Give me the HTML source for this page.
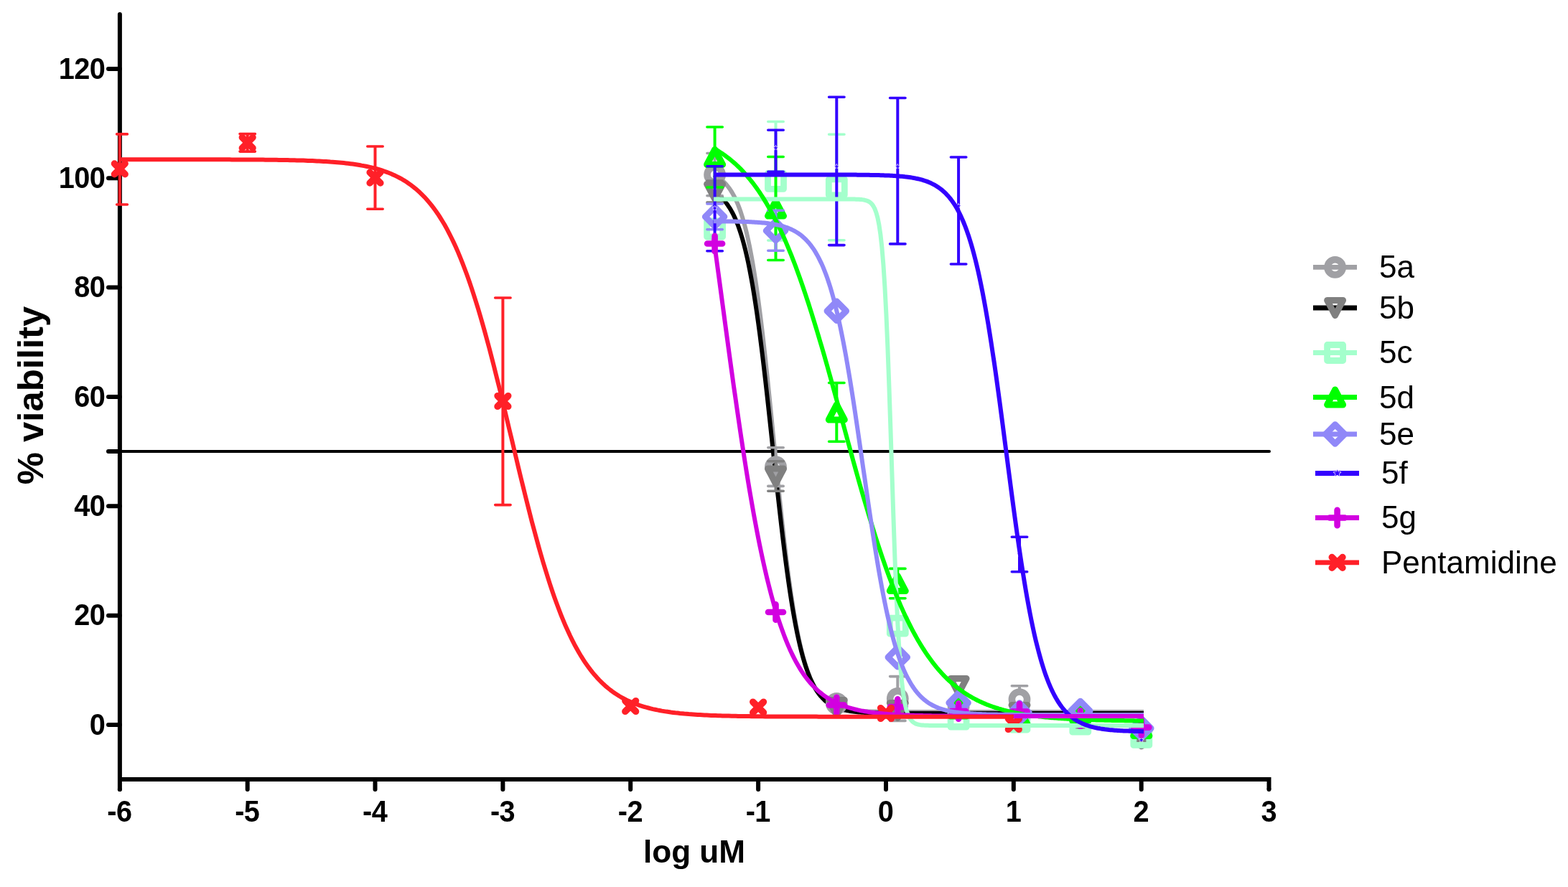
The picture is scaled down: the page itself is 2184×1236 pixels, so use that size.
<!DOCTYPE html>
<html><head><meta charset="utf-8"><title>Dose response</title>
<style>html,body{margin:0;padding:0;background:#fff;}svg{display:block;}</style>
</head><body>
<svg width="2184" height="1236" viewBox="0 0 2184 1236">
<rect width="2184" height="1236" fill="#fff"/>
<path d="M166.9,20V1100" stroke="#000" stroke-width="6" stroke-linecap="round"/>
<path d="M166.9,1086H1767.5V1100" fill="none" stroke="#000" stroke-width="6" stroke-linejoin="miter"/>
<path d="M344.7,1086V1100" stroke="#000" stroke-width="6" stroke-linecap="round"/>
<path d="M522.5,1086V1100" stroke="#000" stroke-width="6" stroke-linecap="round"/>
<path d="M700.4,1086V1100" stroke="#000" stroke-width="6" stroke-linecap="round"/>
<path d="M878.2,1086V1100" stroke="#000" stroke-width="6" stroke-linecap="round"/>
<path d="M1056.1,1086V1100" stroke="#000" stroke-width="6" stroke-linecap="round"/>
<path d="M1234.0,1086V1100" stroke="#000" stroke-width="6" stroke-linecap="round"/>
<path d="M1411.8,1086V1100" stroke="#000" stroke-width="6" stroke-linecap="round"/>
<path d="M1589.7,1086V1100" stroke="#000" stroke-width="6" stroke-linecap="round"/>
<path d="M1767.5,1100V1100" stroke="#000" stroke-width="6" stroke-linecap="round"/>
<path d="M166.8,1100V1100" stroke="#000" stroke-width="6" stroke-linecap="round"/>
<path d="M151,1010.0H166.9" stroke="#000" stroke-width="6" stroke-linecap="round"/>
<path d="M151,857.7H166.9" stroke="#000" stroke-width="6" stroke-linecap="round"/>
<path d="M151,705.3H166.9" stroke="#000" stroke-width="6" stroke-linecap="round"/>
<path d="M151,553.0H166.9" stroke="#000" stroke-width="6" stroke-linecap="round"/>
<path d="M151,400.6H166.9" stroke="#000" stroke-width="6" stroke-linecap="round"/>
<path d="M151,248.3H166.9" stroke="#000" stroke-width="6" stroke-linecap="round"/>
<path d="M151,96.0H166.9" stroke="#000" stroke-width="6" stroke-linecap="round"/>
<path d="M151,629.1H166.9" stroke="#000" stroke-width="6" stroke-linecap="round"/>
<path d="M166.9,629.1H1768" stroke="#000" stroke-width="4" stroke-linecap="round"/>
<text transform="scale(0.92,1)" x="158.91" y="1023.6" text-anchor="end" font-family="Liberation Sans, Arial, sans-serif" font-weight="bold" font-size="43.2" letter-spacing="-0.7">0</text>
<text transform="scale(0.92,1)" x="158.91" y="871.3" text-anchor="end" font-family="Liberation Sans, Arial, sans-serif" font-weight="bold" font-size="43.2" letter-spacing="-0.7">20</text>
<text transform="scale(0.92,1)" x="158.91" y="718.9" text-anchor="end" font-family="Liberation Sans, Arial, sans-serif" font-weight="bold" font-size="43.2" letter-spacing="-0.7">40</text>
<text transform="scale(0.92,1)" x="158.91" y="566.6" text-anchor="end" font-family="Liberation Sans, Arial, sans-serif" font-weight="bold" font-size="43.2" letter-spacing="-0.7">60</text>
<text transform="scale(0.92,1)" x="158.91" y="414.2" text-anchor="end" font-family="Liberation Sans, Arial, sans-serif" font-weight="bold" font-size="43.2" letter-spacing="-0.7">80</text>
<text transform="scale(0.92,1)" x="158.91" y="261.9" text-anchor="end" font-family="Liberation Sans, Arial, sans-serif" font-weight="bold" font-size="43.2" letter-spacing="-0.7">100</text>
<text transform="scale(0.92,1)" x="158.91" y="109.6" text-anchor="end" font-family="Liberation Sans, Arial, sans-serif" font-weight="bold" font-size="43.2" letter-spacing="-0.7">120</text>
<text transform="scale(0.92,1)" x="180.87" y="1144.8" text-anchor="middle" font-family="Liberation Sans, Arial, sans-serif" font-weight="bold" font-size="43.2" letter-spacing="-0.7">-6</text>
<text transform="scale(0.92,1)" x="374.20" y="1144.8" text-anchor="middle" font-family="Liberation Sans, Arial, sans-serif" font-weight="bold" font-size="43.2" letter-spacing="-0.7">-5</text>
<text transform="scale(0.92,1)" x="567.52" y="1144.8" text-anchor="middle" font-family="Liberation Sans, Arial, sans-serif" font-weight="bold" font-size="43.2" letter-spacing="-0.7">-4</text>
<text transform="scale(0.92,1)" x="760.85" y="1144.8" text-anchor="middle" font-family="Liberation Sans, Arial, sans-serif" font-weight="bold" font-size="43.2" letter-spacing="-0.7">-3</text>
<text transform="scale(0.92,1)" x="954.17" y="1144.8" text-anchor="middle" font-family="Liberation Sans, Arial, sans-serif" font-weight="bold" font-size="43.2" letter-spacing="-0.7">-2</text>
<text transform="scale(0.92,1)" x="1147.50" y="1144.8" text-anchor="middle" font-family="Liberation Sans, Arial, sans-serif" font-weight="bold" font-size="43.2" letter-spacing="-0.7">-1</text>
<text transform="scale(0.92,1)" x="1340.83" y="1144.8" text-anchor="middle" font-family="Liberation Sans, Arial, sans-serif" font-weight="bold" font-size="43.2" letter-spacing="-0.7">0</text>
<text transform="scale(0.92,1)" x="1534.15" y="1144.8" text-anchor="middle" font-family="Liberation Sans, Arial, sans-serif" font-weight="bold" font-size="43.2" letter-spacing="-0.7">1</text>
<text transform="scale(0.92,1)" x="1727.48" y="1144.8" text-anchor="middle" font-family="Liberation Sans, Arial, sans-serif" font-weight="bold" font-size="43.2" letter-spacing="-0.7">2</text>
<text transform="scale(0.92,1)" x="1920.80" y="1144.8" text-anchor="middle" font-family="Liberation Sans, Arial, sans-serif" font-weight="bold" font-size="43.2" letter-spacing="-0.7">3</text>
<text x="967" y="1202" text-anchor="middle" font-family="Liberation Sans, Arial, sans-serif" font-weight="bold" font-size="44.1">log uM</text>
<text transform="translate(60.3,551) rotate(-90)" text-anchor="middle" font-family="Liberation Sans, Arial, sans-serif" font-weight="bold" font-size="50.8">% viability</text>
<polyline points="994.0,243.9 996.0,244.9 998.0,246.0 1000.0,247.1 1002.0,248.5 1004.0,249.9 1006.0,251.5 1008.0,253.3 1010.0,255.3 1012.0,257.5 1014.0,260.0 1016.0,262.6 1018.0,265.6 1020.0,268.9 1022.0,272.5 1024.1,276.4 1026.1,280.8 1028.1,285.6 1030.1,290.8 1032.1,296.6 1034.1,302.9 1036.1,309.7 1038.1,317.2 1040.1,325.3 1042.1,334.1 1044.1,343.7 1046.1,354.0 1048.1,365.0 1050.1,376.9 1052.1,389.6 1054.1,403.1 1056.1,417.4 1058.1,432.6 1060.1,448.5 1062.1,465.2 1064.1,482.6 1066.1,500.7 1068.1,519.4 1070.1,538.5 1072.1,558.1 1074.1,577.9 1076.1,598.0 1078.1,618.2 1080.1,638.3 1082.1,658.3 1084.2,678.0 1086.2,697.4 1088.2,716.3 1090.2,734.7 1092.2,752.5 1094.2,769.6 1096.2,786.0 1098.2,801.6 1100.2,816.4 1102.2,830.3 1104.2,843.5 1106.2,855.8 1108.2,867.3 1110.2,878.0 1112.2,887.9 1114.2,897.1 1116.2,905.6 1118.2,913.5 1120.2,920.7 1122.2,927.3 1124.2,933.3 1126.2,938.8 1128.2,943.9 1130.2,948.4 1132.2,952.6 1134.2,956.4 1136.2,959.9 1138.2,963.0 1140.2,965.8 1142.2,968.4 1144.3,970.7 1146.3,972.8 1148.3,974.7 1150.3,976.4 1152.3,978.0 1154.3,979.4 1156.3,980.6 1158.3,981.8 1160.3,982.8 1162.3,983.7 1164.3,984.5 1166.3,985.3 1168.3,986.0 1170.3,986.6 1172.3,987.1 1174.3,987.6 1176.3,988.1 1178.3,988.5 1180.3,988.8 1182.3,989.1 1184.3,989.4 1186.3,989.7 1188.3,989.9 1190.3,990.1 1192.3,990.3 1194.3,990.5 1196.3,990.7 1198.3,990.8 1200.3,990.9 1202.3,991.0 1204.4,991.1 1206.4,991.2 1208.4,991.3 1210.4,991.4 1212.4,991.4 1214.4,991.5 1216.4,991.6 1218.4,991.6 1220.4,991.6 1222.4,991.7 1224.4,991.7 1226.4,991.7 1228.4,991.8 1230.4,991.8 1232.4,991.8 1234.4,991.8 1236.4,991.9 1238.4,991.9 1240.4,991.9 1242.4,991.9 1244.4,991.9 1246.4,991.9 1248.4,991.9 1250.4,991.9 1252.4,992.0 1254.4,992.0 1256.4,992.0 1258.4,992.0 1260.4,992.0 1262.4,992.0 1264.5,992.0 1266.5,992.0 1268.5,992.0 1270.5,992.0 1272.5,992.0 1274.5,992.0 1276.5,992.0 1278.5,992.0 1280.5,992.0 1282.5,992.0 1284.5,992.0 1286.5,992.0 1288.5,992.0 1290.5,992.0 1292.5,992.0 1294.5,992.0 1296.5,992.0 1298.5,992.0 1300.5,992.0 1302.5,992.0 1304.5,992.0 1306.5,992.0 1308.5,992.0 1310.5,992.0 1312.5,992.0 1314.5,992.0 1316.5,992.0 1318.5,992.0 1320.5,992.0 1322.5,992.0 1324.6,992.0 1326.6,992.0 1328.6,992.0 1330.6,992.0 1332.6,992.0 1334.6,992.0 1336.6,992.0 1338.6,992.0 1340.6,992.0 1342.6,992.0 1344.6,992.0 1346.6,992.0 1348.6,992.0 1350.6,992.0 1352.6,992.0 1354.6,992.0 1356.6,992.0 1358.6,992.0 1360.6,992.0 1362.6,992.0 1364.6,992.0 1366.6,992.0 1368.6,992.0 1370.6,992.0 1372.6,992.0 1374.6,992.0 1376.6,992.0 1378.6,992.0 1380.6,992.0 1382.6,992.0 1384.7,992.0 1386.7,992.0 1388.7,992.0 1390.7,992.0 1392.7,992.0 1394.7,992.0 1396.7,992.0 1398.7,992.0 1400.7,992.0 1402.7,992.0 1404.7,992.0 1406.7,992.0 1408.7,992.0 1410.7,992.0 1412.7,992.0 1414.7,992.0 1416.7,992.0 1418.7,992.0 1420.7,992.0 1422.7,992.0 1424.7,992.0 1426.7,992.0 1428.7,992.0 1430.7,992.0 1432.7,992.0 1434.7,992.0 1436.7,992.0 1438.7,992.0 1440.7,992.0 1442.7,992.0 1444.8,992.0 1446.8,992.0 1448.8,992.0 1450.8,992.0 1452.8,992.0 1454.8,992.0 1456.8,992.0 1458.8,992.0 1460.8,992.0 1462.8,992.0 1464.8,992.0 1466.8,992.0 1468.8,992.0 1470.8,992.0 1472.8,992.0 1474.8,992.0 1476.8,992.0 1478.8,992.0 1480.8,992.0 1482.8,992.0 1484.8,992.0 1486.8,992.0 1488.8,992.0 1490.8,992.0 1492.8,992.0 1494.8,992.0 1496.8,992.0 1498.8,992.0 1500.8,992.0 1502.8,992.0 1504.9,992.0 1506.9,992.0 1508.9,992.0 1510.9,992.0 1512.9,992.0 1514.9,992.0 1516.9,992.0 1518.9,992.0 1520.9,992.0 1522.9,992.0 1524.9,992.0 1526.9,992.0 1528.9,992.0 1530.9,992.0 1532.9,992.0 1534.9,992.0 1536.9,992.0 1538.9,992.0 1540.9,992.0 1542.9,992.0 1544.9,992.0 1546.9,992.0 1548.9,992.0 1550.9,992.0 1552.9,992.0 1554.9,992.0 1556.9,992.0 1558.9,992.0 1560.9,992.0 1562.9,992.0 1565.0,992.0 1567.0,992.0 1569.0,992.0 1571.0,992.0 1573.0,992.0 1575.0,992.0 1577.0,992.0 1579.0,992.0 1581.0,992.0 1583.0,992.0 1585.0,992.0 1587.0,992.0 1589.0,992.0 1591.0,992.0 1593.0,992.0" fill="none" stroke="#A0A0A4" stroke-width="6" stroke-linejoin="round"/>
<polyline points="994.0,267.7 996.0,268.9 998.0,270.2 1000.0,271.6 1002.0,273.1 1004.0,274.8 1006.0,276.7 1008.0,278.7 1010.0,281.0 1012.0,283.5 1014.0,286.3 1016.0,289.3 1018.0,292.6 1020.0,296.2 1022.0,300.2 1024.1,304.6 1026.1,309.3 1028.1,314.5 1030.1,320.2 1032.1,326.3 1034.1,333.0 1036.1,340.3 1038.1,348.1 1040.1,356.6 1042.1,365.7 1044.1,375.6 1046.1,386.1 1048.1,397.3 1050.1,409.3 1052.1,422.0 1054.1,435.4 1056.1,449.6 1058.1,464.4 1060.1,480.0 1062.1,496.1 1064.1,512.9 1066.1,530.2 1068.1,548.0 1070.1,566.1 1072.1,584.6 1074.1,603.2 1076.1,622.0 1078.1,640.8 1080.1,659.5 1082.1,678.0 1084.2,696.3 1086.2,714.2 1088.2,731.7 1090.2,748.6 1092.2,765.0 1094.2,780.8 1096.2,795.9 1098.2,810.4 1100.2,824.1 1102.2,837.0 1104.2,849.3 1106.2,860.8 1108.2,871.5 1110.2,881.6 1112.2,891.0 1114.2,899.7 1116.2,907.8 1118.2,915.2 1120.2,922.1 1122.2,928.5 1124.2,934.3 1126.2,939.7 1128.2,944.6 1130.2,949.1 1132.2,953.2 1134.2,957.0 1136.2,960.4 1138.2,963.5 1140.2,966.4 1142.2,969.0 1144.3,971.3 1146.3,973.4 1148.3,975.4 1150.3,977.2 1152.3,978.8 1154.3,980.2 1156.3,981.5 1158.3,982.7 1160.3,983.8 1162.3,984.8 1164.3,985.7 1166.3,986.5 1168.3,987.2 1170.3,987.8 1172.3,988.4 1174.3,989.0 1176.3,989.5 1178.3,989.9 1180.3,990.3 1182.3,990.6 1184.3,991.0 1186.3,991.3 1188.3,991.5 1190.3,991.8 1192.3,992.0 1194.3,992.2 1196.3,992.4 1198.3,992.5 1200.3,992.7 1202.3,992.8 1204.4,992.9 1206.4,993.0 1208.4,993.1 1210.4,993.2 1212.4,993.3 1214.4,993.3 1216.4,993.4 1218.4,993.5 1220.4,993.5 1222.4,993.6 1224.4,993.6 1226.4,993.6 1228.4,993.7 1230.4,993.7 1232.4,993.7 1234.4,993.8 1236.4,993.8 1238.4,993.8 1240.4,993.8 1242.4,993.8 1244.4,993.9 1246.4,993.9 1248.4,993.9 1250.4,993.9 1252.4,993.9 1254.4,993.9 1256.4,993.9 1258.4,993.9 1260.4,993.9 1262.4,993.9 1264.5,994.0 1266.5,994.0 1268.5,994.0 1270.5,994.0 1272.5,994.0 1274.5,994.0 1276.5,994.0 1278.5,994.0 1280.5,994.0 1282.5,994.0 1284.5,994.0 1286.5,994.0 1288.5,994.0 1290.5,994.0 1292.5,994.0 1294.5,994.0 1296.5,994.0 1298.5,994.0 1300.5,994.0 1302.5,994.0 1304.5,994.0 1306.5,994.0 1308.5,994.0 1310.5,994.0 1312.5,994.0 1314.5,994.0 1316.5,994.0 1318.5,994.0 1320.5,994.0 1322.5,994.0 1324.6,994.0 1326.6,994.0 1328.6,994.0 1330.6,994.0 1332.6,994.0 1334.6,994.0 1336.6,994.0 1338.6,994.0 1340.6,994.0 1342.6,994.0 1344.6,994.0 1346.6,994.0 1348.6,994.0 1350.6,994.0 1352.6,994.0 1354.6,994.0 1356.6,994.0 1358.6,994.0 1360.6,994.0 1362.6,994.0 1364.6,994.0 1366.6,994.0 1368.6,994.0 1370.6,994.0 1372.6,994.0 1374.6,994.0 1376.6,994.0 1378.6,994.0 1380.6,994.0 1382.6,994.0 1384.7,994.0 1386.7,994.0 1388.7,994.0 1390.7,994.0 1392.7,994.0 1394.7,994.0 1396.7,994.0 1398.7,994.0 1400.7,994.0 1402.7,994.0 1404.7,994.0 1406.7,994.0 1408.7,994.0 1410.7,994.0 1412.7,994.0 1414.7,994.0 1416.7,994.0 1418.7,994.0 1420.7,994.0 1422.7,994.0 1424.7,994.0 1426.7,994.0 1428.7,994.0 1430.7,994.0 1432.7,994.0 1434.7,994.0 1436.7,994.0 1438.7,994.0 1440.7,994.0 1442.7,994.0 1444.8,994.0 1446.8,994.0 1448.8,994.0 1450.8,994.0 1452.8,994.0 1454.8,994.0 1456.8,994.0 1458.8,994.0 1460.8,994.0 1462.8,994.0 1464.8,994.0 1466.8,994.0 1468.8,994.0 1470.8,994.0 1472.8,994.0 1474.8,994.0 1476.8,994.0 1478.8,994.0 1480.8,994.0 1482.8,994.0 1484.8,994.0 1486.8,994.0 1488.8,994.0 1490.8,994.0 1492.8,994.0 1494.8,994.0 1496.8,994.0 1498.8,994.0 1500.8,994.0 1502.8,994.0 1504.9,994.0 1506.9,994.0 1508.9,994.0 1510.9,994.0 1512.9,994.0 1514.9,994.0 1516.9,994.0 1518.9,994.0 1520.9,994.0 1522.9,994.0 1524.9,994.0 1526.9,994.0 1528.9,994.0 1530.9,994.0 1532.9,994.0 1534.9,994.0 1536.9,994.0 1538.9,994.0 1540.9,994.0 1542.9,994.0 1544.9,994.0 1546.9,994.0 1548.9,994.0 1550.9,994.0 1552.9,994.0 1554.9,994.0 1556.9,994.0 1558.9,994.0 1560.9,994.0 1562.9,994.0 1565.0,994.0 1567.0,994.0 1569.0,994.0 1571.0,994.0 1573.0,994.0 1575.0,994.0 1577.0,994.0 1579.0,994.0 1581.0,994.0 1583.0,994.0 1585.0,994.0 1587.0,994.0 1589.0,994.0 1591.0,994.0 1593.0,994.0" fill="none" stroke="#000000" stroke-width="6" stroke-linejoin="round"/>
<path d="M995.6,213.5V229.4M995.6,257.4V272.8" stroke="#A0A0A4" stroke-width="4"/><path d="M984.9,213.5H1006.3M984.9,272.8H1006.3" stroke="#A0A0A4" stroke-width="3.6" stroke-linecap="round"/>
<path d="M1080.5,623.8V636.6M1080.5,664.6V677.4" stroke="#A0A0A4" stroke-width="4"/><path d="M1069.8,623.8H1091.2M1069.8,677.4H1091.2" stroke="#A0A0A4" stroke-width="3.6" stroke-linecap="round"/>
<path d="M1250.3,942.6V959.5M1250.3,987.5V1004.4" stroke="#A0A0A4" stroke-width="4"/><path d="M1239.6,942.6H1261.0M1239.6,1004.4H1261.0" stroke="#A0A0A4" stroke-width="3.6" stroke-linecap="round"/>
<path d="M1420.0,955.8V960.6M1420.0,988.6V993.4" stroke="#A0A0A4" stroke-width="4"/><path d="M1409.3,955.8H1430.7M1409.3,993.4H1430.7" stroke="#A0A0A4" stroke-width="3.6" stroke-linecap="round"/>
<circle cx="995.6" cy="243.4" r="10.6" fill="none" stroke="#A0A0A4" stroke-width="9.6"/>
<circle cx="1080.5" cy="650.6" r="10.6" fill="none" stroke="#A0A0A4" stroke-width="9.6"/>
<circle cx="1165.3" cy="980.3" r="10.6" fill="none" stroke="#A0A0A4" stroke-width="9.6"/>
<circle cx="1250.3" cy="973.5" r="10.6" fill="none" stroke="#A0A0A4" stroke-width="9.6"/>
<circle cx="1335.1" cy="985.0" r="10.6" fill="none" stroke="#A0A0A4" stroke-width="9.6"/>
<circle cx="1420.0" cy="974.6" r="10.6" fill="none" stroke="#A0A0A4" stroke-width="9.6"/>
<circle cx="1504.8" cy="1003.0" r="10.6" fill="none" stroke="#A0A0A4" stroke-width="9.6"/>
<circle cx="1589.8" cy="1025.0" r="10.6" fill="none" stroke="#A0A0A4" stroke-width="9.6"/>
<path d="M995.6,252.0V253.0M995.6,281.0V282.0" stroke="#808080" stroke-width="4"/><path d="M984.9,252.0H1006.3M984.9,282.0H1006.3" stroke="#808080" stroke-width="3.6" stroke-linecap="round"/>
<path d="M1080.5,642.8V649.6M1080.5,677.6V684.3" stroke="#808080" stroke-width="4"/><path d="M1069.8,642.8H1091.2M1069.8,684.3H1091.2" stroke="#808080" stroke-width="3.6" stroke-linecap="round"/>
<path d="M984.6,256.5L1006.6,256.5L995.6,277.5Z" fill="none" stroke="#808080" stroke-width="9" stroke-linejoin="round"/>
<path d="M1069.5,653.1L1091.5,653.1L1080.5,674.1Z" fill="none" stroke="#808080" stroke-width="9" stroke-linejoin="round"/>
<path d="M1154.3,975.4L1176.3,975.4L1165.3,996.4Z" fill="none" stroke="#808080" stroke-width="9" stroke-linejoin="round"/>
<path d="M1239.3,979.5L1261.3,979.5L1250.3,1000.5Z" fill="none" stroke="#808080" stroke-width="9" stroke-linejoin="round"/>
<path d="M1324.1,945.5L1346.1,945.5L1335.1,966.5Z" fill="none" stroke="#808080" stroke-width="9" stroke-linejoin="round"/>
<path d="M1409.0,982.5L1431.0,982.5L1420.0,1003.5Z" fill="none" stroke="#808080" stroke-width="9" stroke-linejoin="round"/>
<path d="M1493.8,992.5L1515.8,992.5L1504.8,1013.5Z" fill="none" stroke="#808080" stroke-width="9" stroke-linejoin="round"/>
<path d="M1578.8,1018.8L1600.8,1018.8L1589.8,1039.8Z" fill="none" stroke="#808080" stroke-width="9" stroke-linejoin="round"/>
<path d="M1080.5,169.5V238.3M1080.5,266.3V335.0" stroke="#A4FFCC" stroke-width="4"/><path d="M1069.8,169.5H1091.2M1069.8,335.0H1091.2" stroke="#A4FFCC" stroke-width="3.6" stroke-linecap="round"/>
<path d="M1165.3,187.2V246.8M1165.3,274.8V334.8" stroke="#A4FFCC" stroke-width="4"/><path d="M1154.6,187.2H1176.0M1154.6,334.8H1176.0" stroke="#A4FFCC" stroke-width="3.6" stroke-linecap="round"/>
<rect x="984.6" y="308.0" width="22" height="22" fill="none" stroke="#A4FFCC" stroke-width="8.8" stroke-linejoin="round"/>
<rect x="1069.5" y="241.3" width="22" height="22" fill="none" stroke="#A4FFCC" stroke-width="8.8" stroke-linejoin="round"/>
<rect x="1154.3" y="249.8" width="22" height="22" fill="none" stroke="#A4FFCC" stroke-width="8.8" stroke-linejoin="round"/>
<rect x="1239.3" y="861.2" width="22" height="22" fill="none" stroke="#A4FFCC" stroke-width="8.8" stroke-linejoin="round"/>
<rect x="1324.1" y="991.2" width="22" height="22" fill="none" stroke="#A4FFCC" stroke-width="8.8" stroke-linejoin="round"/>
<rect x="1409.0" y="995.0" width="22" height="22" fill="none" stroke="#A4FFCC" stroke-width="8.8" stroke-linejoin="round"/>
<rect x="1493.8" y="998.2" width="22" height="22" fill="none" stroke="#A4FFCC" stroke-width="8.8" stroke-linejoin="round"/>
<rect x="1578.8" y="1016.4" width="22" height="22" fill="none" stroke="#A4FFCC" stroke-width="8.8" stroke-linejoin="round"/>
<path d="M995.6,177.0V204.9M995.6,232.9V261.0" stroke="#00FF00" stroke-width="4"/><path d="M984.9,177.0H1006.3M984.9,261.0H1006.3" stroke="#00FF00" stroke-width="3.6" stroke-linecap="round"/>
<path d="M1080.5,218.5V276.5M1080.5,304.5V362.5" stroke="#00FF00" stroke-width="4"/><path d="M1069.8,218.5H1091.2M1069.8,362.5H1091.2" stroke="#00FF00" stroke-width="3.6" stroke-linecap="round"/>
<path d="M1165.3,533.5V560.4M1165.3,588.4V615.3" stroke="#00FF00" stroke-width="4"/><path d="M1154.6,533.5H1176.0M1154.6,615.3H1176.0" stroke="#00FF00" stroke-width="3.6" stroke-linecap="round"/>
<path d="M1250.3,792.4V799.0M1250.3,827.0V833.7" stroke="#00FF00" stroke-width="4"/><path d="M1239.6,792.4H1261.0M1239.6,833.7H1261.0" stroke="#00FF00" stroke-width="3.6" stroke-linecap="round"/>
<path d="M984.6,229.4L1006.6,229.4L995.6,208.4Z" fill="none" stroke="#00FF00" stroke-width="9" stroke-linejoin="round"/>
<path d="M1069.5,301.0L1091.5,301.0L1080.5,280.0Z" fill="none" stroke="#00FF00" stroke-width="9" stroke-linejoin="round"/>
<path d="M1154.3,584.9L1176.3,584.9L1165.3,563.9Z" fill="none" stroke="#00FF00" stroke-width="9" stroke-linejoin="round"/>
<path d="M1239.3,823.5L1261.3,823.5L1250.3,802.5Z" fill="none" stroke="#00FF00" stroke-width="9" stroke-linejoin="round"/>
<path d="M1324.1,998.0L1346.1,998.0L1335.1,977.0Z" fill="none" stroke="#00FF00" stroke-width="9" stroke-linejoin="round"/>
<path d="M1409.0,1009.2L1431.0,1009.2L1420.0,988.2Z" fill="none" stroke="#00FF00" stroke-width="9" stroke-linejoin="round"/>
<path d="M1493.8,1004.5L1515.8,1004.5L1504.8,983.5Z" fill="none" stroke="#00FF00" stroke-width="9" stroke-linejoin="round"/>
<path d="M1578.8,1025.5L1600.8,1025.5L1589.8,1004.5Z" fill="none" stroke="#00FF00" stroke-width="9" stroke-linejoin="round"/>
<path d="M995.6,284.0V286.0M995.6,318.0V319.7" stroke="#9088F8" stroke-width="4"/><path d="M984.9,284.0H1006.3M984.9,319.7H1006.3" stroke="#9088F8" stroke-width="3.6" stroke-linecap="round"/>
<path d="M1080.5,293.3V305.5M1080.5,337.5V349.2" stroke="#9088F8" stroke-width="4"/><path d="M1069.8,293.3H1091.2M1069.8,349.2H1091.2" stroke="#9088F8" stroke-width="3.6" stroke-linecap="round"/>
<path d="M995.6,288.6L1009.0,302.0L995.6,315.4L982.2,302.0Z" fill="none" stroke="#9088F8" stroke-width="8.7" stroke-linejoin="round"/>
<path d="M1080.5,308.1L1093.9,321.5L1080.5,334.9L1067.1,321.5Z" fill="none" stroke="#9088F8" stroke-width="8.7" stroke-linejoin="round"/>
<path d="M1165.3,419.9L1178.7,433.3L1165.3,446.7L1151.9,433.3Z" fill="none" stroke="#9088F8" stroke-width="8.7" stroke-linejoin="round"/>
<path d="M1250.3,902.4L1263.7,915.8L1250.3,929.2L1236.9,915.8Z" fill="none" stroke="#9088F8" stroke-width="8.7" stroke-linejoin="round"/>
<path d="M1335.1,965.9L1348.5,979.3L1335.1,992.7L1321.7,979.3Z" fill="none" stroke="#9088F8" stroke-width="8.7" stroke-linejoin="round"/>
<path d="M1420.0,979.6L1433.4,993.0L1420.0,1006.4L1406.6,993.0Z" fill="none" stroke="#9088F8" stroke-width="8.7" stroke-linejoin="round"/>
<path d="M1504.8,977.2L1518.2,990.6L1504.8,1004.0L1491.4,990.6Z" fill="none" stroke="#9088F8" stroke-width="8.7" stroke-linejoin="round"/>
<path d="M1589.8,1001.4L1603.2,1014.8L1589.8,1028.2L1576.4,1014.8Z" fill="none" stroke="#9088F8" stroke-width="8.7" stroke-linejoin="round"/>
<path d="M995.6,231.8V290.0M995.6,290.0V349.7" stroke="#3300FF" stroke-width="4"/><path d="M984.9,231.8H1006.3M984.9,349.7H1006.3" stroke="#3300FF" stroke-width="3.6" stroke-linecap="round"/>
<path d="M1080.5,181.3V206.0M1080.5,206.0V239.3" stroke="#3300FF" stroke-width="4"/><path d="M1069.8,181.3H1091.2M1069.8,239.3H1091.2" stroke="#3300FF" stroke-width="3.6" stroke-linecap="round"/>
<path d="M1165.3,135.3V232.0M1165.3,232.0V341.6" stroke="#3300FF" stroke-width="4"/><path d="M1154.6,135.3H1176.0M1154.6,341.6H1176.0" stroke="#3300FF" stroke-width="3.6" stroke-linecap="round"/>
<path d="M1250.3,136.5V232.0M1250.3,232.0V339.9" stroke="#3300FF" stroke-width="4"/><path d="M1239.6,136.5H1261.0M1239.6,339.9H1261.0" stroke="#3300FF" stroke-width="3.6" stroke-linecap="round"/>
<path d="M1335.1,219.0V287.0M1335.1,287.0V368.0" stroke="#3300FF" stroke-width="4"/><path d="M1324.4,219.0H1345.8M1324.4,368.0H1345.8" stroke="#3300FF" stroke-width="3.6" stroke-linecap="round"/>
<path d="M1420.0,748.3V772.5M1420.0,772.5V796.8" stroke="#3300FF" stroke-width="4"/><path d="M1409.3,748.3H1430.7M1409.3,796.8H1430.7" stroke="#3300FF" stroke-width="3.6" stroke-linecap="round"/>
<polygon points="995.6,286.8 996.4,288.9 998.6,289.0 996.9,290.4 997.5,292.6 995.6,291.4 993.7,292.6 994.3,290.4 992.6,289.0 994.8,288.9" fill="#3300FF" stroke="#fff" stroke-width="1.1" stroke-linejoin="round" paint-order="stroke"/>
<polygon points="1080.5,202.8 1081.3,204.9 1083.5,205.0 1081.8,206.4 1082.4,208.6 1080.5,207.4 1078.6,208.6 1079.2,206.4 1077.5,205.0 1079.7,204.9" fill="#3300FF" stroke="#fff" stroke-width="1.1" stroke-linejoin="round" paint-order="stroke"/>
<polygon points="1165.3,228.8 1166.1,230.9 1168.3,231.0 1166.6,232.4 1167.2,234.6 1165.3,233.4 1163.4,234.6 1164.0,232.4 1162.3,231.0 1164.5,230.9" fill="#3300FF" stroke="#fff" stroke-width="1.1" stroke-linejoin="round" paint-order="stroke"/>
<polygon points="1250.3,228.8 1251.1,230.9 1253.3,231.0 1251.6,232.4 1252.2,234.6 1250.3,233.4 1248.4,234.6 1249.0,232.4 1247.3,231.0 1249.5,230.9" fill="#3300FF" stroke="#fff" stroke-width="1.1" stroke-linejoin="round" paint-order="stroke"/>
<polygon points="1335.1,283.8 1335.9,285.9 1338.1,286.0 1336.4,287.4 1337.0,289.6 1335.1,288.4 1333.2,289.6 1333.8,287.4 1332.1,286.0 1334.3,285.9" fill="#3300FF" stroke="#fff" stroke-width="1.1" stroke-linejoin="round" paint-order="stroke"/>
<polygon points="1420.0,769.3 1420.8,771.4 1423.0,771.5 1421.3,772.9 1421.9,775.1 1420.0,773.9 1418.1,775.1 1418.7,772.9 1417.0,771.5 1419.2,771.4" fill="#3300FF" stroke="#fff" stroke-width="1.1" stroke-linejoin="round" paint-order="stroke"/>
<polygon points="1504.8,1001.8 1505.6,1003.9 1507.8,1004.0 1506.1,1005.4 1506.7,1007.6 1504.8,1006.4 1502.9,1007.6 1503.5,1005.4 1501.8,1004.0 1504.0,1003.9" fill="#3300FF" stroke="#fff" stroke-width="1.1" stroke-linejoin="round" paint-order="stroke"/>
<polygon points="1589.8,1027.8 1590.6,1029.9 1592.8,1030.0 1591.1,1031.4 1591.7,1033.6 1589.8,1032.4 1587.9,1033.6 1588.5,1031.4 1586.8,1030.0 1589.0,1029.9" fill="#3300FF" stroke="#fff" stroke-width="1.1" stroke-linejoin="round" paint-order="stroke"/>
<path d="M985.1,339.5H1006.1M995.6,328.7V350.3" stroke="#D200E0" stroke-width="8.6" stroke-linecap="round"/>
<path d="M1070.0,853.0H1091.0M1080.5,842.2V863.8" stroke="#D200E0" stroke-width="8.6" stroke-linecap="round"/>
<path d="M1154.8,982.5H1175.8M1165.3,971.7V993.3" stroke="#D200E0" stroke-width="8.6" stroke-linecap="round"/>
<path d="M1239.8,985.0H1260.8M1250.3,974.2V995.8" stroke="#D200E0" stroke-width="8.6" stroke-linecap="round"/>
<path d="M1324.6,991.0H1345.6M1335.1,980.2V1001.8" stroke="#D200E0" stroke-width="8.6" stroke-linecap="round"/>
<path d="M1409.5,991.5H1430.5M1420.0,980.7V1002.3" stroke="#D200E0" stroke-width="8.6" stroke-linecap="round"/>
<path d="M1494.3,1001.0H1515.3M1504.8,990.2V1011.8" stroke="#D200E0" stroke-width="8.6" stroke-linecap="round"/>
<path d="M1579.3,1013.6H1600.3M1589.8,1002.8V1024.4" stroke="#D200E0" stroke-width="8.6" stroke-linecap="round"/>
<path d="M166.8,186.9V285.0" stroke="#FF2028" stroke-width="4"/>
<path d="M162.6,186.9H177.4M162.6,285.0H177.4" stroke="#FF2028" stroke-width="3.6" stroke-linecap="round"/>
<path d="M344.7,186.6V198.9M344.7,198.9V211.1" stroke="#FF2028" stroke-width="4"/><path d="M334.0,186.6H355.4M334.0,211.1H355.4" stroke="#FF2028" stroke-width="3.6" stroke-linecap="round"/>
<path d="M522.5,204.0V247.6M522.5,247.6V291.2" stroke="#FF2028" stroke-width="4"/><path d="M511.8,204.0H533.2M511.8,291.2H533.2" stroke="#FF2028" stroke-width="3.6" stroke-linecap="round"/>
<path d="M700.4,415.0V559.0M700.4,559.0V703.6" stroke="#FF2028" stroke-width="4"/><path d="M689.7,415.0H711.1M689.7,703.6H711.1" stroke="#FF2028" stroke-width="3.6" stroke-linecap="round"/>
<path d="M159.4,228.0L174.2,242.8M159.4,242.8L174.2,228.0" stroke="#FF2028" stroke-width="9.4" stroke-linecap="round"/>
<path d="M337.3,191.5L352.1,206.3M337.3,206.3L352.1,191.5" stroke="#FF2028" stroke-width="9.4" stroke-linecap="round"/>
<path d="M515.1,240.2L529.9,255.0M515.1,255.0L529.9,240.2" stroke="#FF2028" stroke-width="9.4" stroke-linecap="round"/>
<path d="M693.0,551.6L707.8,566.4M693.0,566.4L707.8,551.6" stroke="#FF2028" stroke-width="9.4" stroke-linecap="round"/>
<path d="M870.8,976.6L885.6,991.4M870.8,991.4L885.6,976.6" stroke="#FF2028" stroke-width="9.4" stroke-linecap="round"/>
<path d="M1048.7,978.1L1063.5,992.9M1048.7,992.9L1063.5,978.1" stroke="#FF2028" stroke-width="9.4" stroke-linecap="round"/>
<path d="M1226.6,986.6L1241.4,1001.4M1226.6,1001.4L1241.4,986.6" stroke="#FF2028" stroke-width="9.4" stroke-linecap="round"/>
<path d="M1404.4,1001.6L1419.2,1016.4M1404.4,1016.4L1419.2,1001.6" stroke="#FF2028" stroke-width="9.4" stroke-linecap="round"/>
<polyline points="994.0,277.5 996.0,277.5 998.0,277.5 1000.0,277.5 1002.0,277.5 1004.0,277.5 1006.0,277.5 1008.0,277.5 1010.0,277.5 1012.0,277.5 1014.0,277.5 1016.0,277.5 1018.0,277.5 1020.0,277.5 1022.0,277.5 1024.1,277.5 1026.1,277.5 1028.1,277.5 1030.1,277.5 1032.1,277.5 1034.1,277.5 1036.1,277.5 1038.1,277.5 1040.1,277.5 1042.1,277.5 1044.1,277.5 1046.1,277.5 1048.1,277.5 1050.1,277.5 1052.1,277.5 1054.1,277.5 1056.1,277.5 1058.1,277.5 1060.1,277.5 1062.1,277.5 1064.1,277.5 1066.1,277.5 1068.1,277.5 1070.1,277.5 1072.1,277.5 1074.1,277.5 1076.1,277.5 1078.1,277.5 1080.1,277.5 1082.1,277.5 1084.2,277.5 1086.2,277.5 1088.2,277.5 1090.2,277.5 1092.2,277.5 1094.2,277.5 1096.2,277.5 1098.2,277.5 1100.2,277.5 1102.2,277.5 1104.2,277.5 1106.2,277.5 1108.2,277.5 1110.2,277.5 1112.2,277.5 1114.2,277.5 1116.2,277.5 1118.2,277.5 1120.2,277.5 1122.2,277.5 1124.2,277.5 1126.2,277.5 1128.2,277.5 1130.2,277.5 1132.2,277.5 1134.2,277.5 1136.2,277.5 1138.2,277.5 1140.2,277.5 1142.2,277.5 1144.3,277.5 1146.3,277.5 1148.3,277.5 1150.3,277.5 1152.3,277.5 1154.3,277.5 1156.3,277.5 1158.3,277.5 1160.3,277.5 1162.3,277.5 1164.3,277.5 1166.3,277.5 1168.3,277.5 1170.3,277.5 1172.3,277.5 1174.3,277.5 1176.3,277.5 1178.3,277.5 1180.3,277.5 1182.3,277.5 1184.3,277.5 1186.3,277.6 1188.3,277.6 1190.3,277.6 1192.3,277.7 1194.3,277.7 1196.3,277.8 1198.3,278.0 1200.3,278.1 1202.3,278.4 1204.4,278.8 1206.4,279.3 1208.4,280.0 1210.4,281.0 1212.4,282.4 1214.4,284.4 1216.4,287.1 1218.4,290.9 1220.4,296.2 1222.4,303.4 1224.4,313.4 1226.4,326.9 1228.4,344.9 1230.4,368.7 1232.4,399.4 1234.4,437.7 1236.4,484.1 1238.4,537.8 1240.4,597.0 1242.4,658.9 1244.4,719.9 1246.4,776.8 1248.4,827.2 1250.4,869.8 1252.4,904.5 1254.4,931.8 1256.4,952.7 1258.4,968.5 1260.4,980.2 1262.4,988.8 1264.5,995.0 1266.5,999.5 1268.5,1002.8 1270.5,1005.1 1272.5,1006.8 1274.5,1008.0 1276.5,1008.9 1278.5,1009.5 1280.5,1009.9 1282.5,1010.2 1284.5,1010.4 1286.5,1010.6 1288.5,1010.7 1290.5,1010.8 1292.5,1010.8 1294.5,1010.9 1296.5,1010.9 1298.5,1010.9 1300.5,1011.0 1302.5,1011.0 1304.5,1011.0 1306.5,1011.0 1308.5,1011.0 1310.5,1011.0 1312.5,1011.0 1314.5,1011.0 1316.5,1011.0 1318.5,1011.0 1320.5,1011.0 1322.5,1011.0 1324.6,1011.0 1326.6,1011.0 1328.6,1011.0 1330.6,1011.0 1332.6,1011.0 1334.6,1011.0 1336.6,1011.0 1338.6,1011.0 1340.6,1011.0 1342.6,1011.0 1344.6,1011.0 1346.6,1011.0 1348.6,1011.0 1350.6,1011.0 1352.6,1011.0 1354.6,1011.0 1356.6,1011.0 1358.6,1011.0 1360.6,1011.0 1362.6,1011.0 1364.6,1011.0 1366.6,1011.0 1368.6,1011.0 1370.6,1011.0 1372.6,1011.0 1374.6,1011.0 1376.6,1011.0 1378.6,1011.0 1380.6,1011.0 1382.6,1011.0 1384.7,1011.0 1386.7,1011.0 1388.7,1011.0 1390.7,1011.0 1392.7,1011.0 1394.7,1011.0 1396.7,1011.0 1398.7,1011.0 1400.7,1011.0 1402.7,1011.0 1404.7,1011.0 1406.7,1011.0 1408.7,1011.0 1410.7,1011.0 1412.7,1011.0 1414.7,1011.0 1416.7,1011.0 1418.7,1011.0 1420.7,1011.0 1422.7,1011.0 1424.7,1011.0 1426.7,1011.0 1428.7,1011.0 1430.7,1011.0 1432.7,1011.0 1434.7,1011.0 1436.7,1011.0 1438.7,1011.0 1440.7,1011.0 1442.7,1011.0 1444.8,1011.0 1446.8,1011.0 1448.8,1011.0 1450.8,1011.0 1452.8,1011.0 1454.8,1011.0 1456.8,1011.0 1458.8,1011.0 1460.8,1011.0 1462.8,1011.0 1464.8,1011.0 1466.8,1011.0 1468.8,1011.0 1470.8,1011.0 1472.8,1011.0 1474.8,1011.0 1476.8,1011.0 1478.8,1011.0 1480.8,1011.0 1482.8,1011.0 1484.8,1011.0 1486.8,1011.0 1488.8,1011.0 1490.8,1011.0 1492.8,1011.0 1494.8,1011.0 1496.8,1011.0 1498.8,1011.0 1500.8,1011.0 1502.8,1011.0 1504.9,1011.0 1506.9,1011.0 1508.9,1011.0 1510.9,1011.0 1512.9,1011.0 1514.9,1011.0 1516.9,1011.0 1518.9,1011.0 1520.9,1011.0 1522.9,1011.0 1524.9,1011.0 1526.9,1011.0 1528.9,1011.0 1530.9,1011.0 1532.9,1011.0 1534.9,1011.0 1536.9,1011.0 1538.9,1011.0 1540.9,1011.0 1542.9,1011.0 1544.9,1011.0 1546.9,1011.0 1548.9,1011.0 1550.9,1011.0 1552.9,1011.0 1554.9,1011.0 1556.9,1011.0 1558.9,1011.0 1560.9,1011.0 1562.9,1011.0 1565.0,1011.0 1567.0,1011.0 1569.0,1011.0 1571.0,1011.0 1573.0,1011.0 1575.0,1011.0 1577.0,1011.0 1579.0,1011.0 1581.0,1011.0 1583.0,1011.0 1585.0,1011.0 1587.0,1011.0 1589.0,1011.0 1591.0,1011.0 1593.0,1011.0" fill="none" stroke="#A4FFCC" stroke-width="6" stroke-linejoin="round"/>
<polyline points="994.0,206.5 996.0,207.7 998.0,208.9 1000.0,210.1 1002.0,211.4 1004.0,212.7 1006.0,214.0 1008.0,215.4 1010.0,216.8 1012.0,218.3 1014.0,219.8 1016.0,221.4 1018.0,223.0 1020.0,224.7 1022.0,226.4 1024.1,228.2 1026.1,230.1 1028.1,232.0 1030.1,233.9 1032.1,235.9 1034.1,238.0 1036.1,240.2 1038.1,242.4 1040.1,244.6 1042.1,247.0 1044.1,249.4 1046.1,251.9 1048.1,254.4 1050.1,257.0 1052.1,259.7 1054.1,262.5 1056.1,265.4 1058.1,268.3 1060.1,271.3 1062.1,274.4 1064.1,277.6 1066.1,280.9 1068.1,284.2 1070.1,287.7 1072.1,291.2 1074.1,294.9 1076.1,298.6 1078.1,302.4 1080.1,306.3 1082.1,310.3 1084.2,314.4 1086.2,318.6 1088.2,322.9 1090.2,327.3 1092.2,331.8 1094.2,336.4 1096.2,341.1 1098.2,345.9 1100.2,350.8 1102.2,355.7 1104.2,360.8 1106.2,366.0 1108.2,371.3 1110.2,376.7 1112.2,382.2 1114.2,387.8 1116.2,393.5 1118.2,399.3 1120.2,405.2 1122.2,411.1 1124.2,417.2 1126.2,423.3 1128.2,429.6 1130.2,435.9 1132.2,442.3 1134.2,448.8 1136.2,455.4 1138.2,462.0 1140.2,468.7 1142.2,475.5 1144.3,482.3 1146.3,489.3 1148.3,496.2 1150.3,503.2 1152.3,510.3 1154.3,517.5 1156.3,524.6 1158.3,531.8 1160.3,539.1 1162.3,546.4 1164.3,553.7 1166.3,561.0 1168.3,568.3 1170.3,575.7 1172.3,583.0 1174.3,590.4 1176.3,597.8 1178.3,605.1 1180.3,612.5 1182.3,619.8 1184.3,627.1 1186.3,634.4 1188.3,641.7 1190.3,648.9 1192.3,656.1 1194.3,663.3 1196.3,670.4 1198.3,677.5 1200.3,684.5 1202.3,691.4 1204.4,698.3 1206.4,705.1 1208.4,711.9 1210.4,718.6 1212.4,725.2 1214.4,731.7 1216.4,738.2 1218.4,744.6 1220.4,750.9 1222.4,757.1 1224.4,763.2 1226.4,769.3 1228.4,775.2 1230.4,781.0 1232.4,786.8 1234.4,792.4 1236.4,798.0 1238.4,803.5 1240.4,808.8 1242.4,814.1 1244.4,819.3 1246.4,824.3 1248.4,829.3 1250.4,834.1 1252.4,838.9 1254.4,843.6 1256.4,848.1 1258.4,852.6 1260.4,856.9 1262.4,861.2 1264.5,865.4 1266.5,869.4 1268.5,873.4 1270.5,877.3 1272.5,881.1 1274.5,884.8 1276.5,888.4 1278.5,891.9 1280.5,895.3 1282.5,898.6 1284.5,901.9 1286.5,905.0 1288.5,908.1 1290.5,911.1 1292.5,914.0 1294.5,916.8 1296.5,919.6 1298.5,922.3 1300.5,924.9 1302.5,927.4 1304.5,929.9 1306.5,932.2 1308.5,934.6 1310.5,936.8 1312.5,939.0 1314.5,941.1 1316.5,943.2 1318.5,945.2 1320.5,947.1 1322.5,949.0 1324.6,950.8 1326.6,952.6 1328.6,954.3 1330.6,956.0 1332.6,957.6 1334.6,959.1 1336.6,960.6 1338.6,962.1 1340.6,963.5 1342.6,964.9 1344.6,966.2 1346.6,967.5 1348.6,968.8 1350.6,970.0 1352.6,971.1 1354.6,972.3 1356.6,973.4 1358.6,974.4 1360.6,975.5 1362.6,976.4 1364.6,977.4 1366.6,978.3 1368.6,979.2 1370.6,980.1 1372.6,980.9 1374.6,981.8 1376.6,982.5 1378.6,983.3 1380.6,984.0 1382.6,984.8 1384.7,985.4 1386.7,986.1 1388.7,986.7 1390.7,987.4 1392.7,988.0 1394.7,988.5 1396.7,989.1 1398.7,989.7 1400.7,990.2 1402.7,990.7 1404.7,991.2 1406.7,991.6 1408.7,992.1 1410.7,992.5 1412.7,993.0 1414.7,993.4 1416.7,993.8 1418.7,994.2 1420.7,994.5 1422.7,994.9 1424.7,995.2 1426.7,995.6 1428.7,995.9 1430.7,996.2 1432.7,996.5 1434.7,996.8 1436.7,997.1 1438.7,997.4 1440.7,997.6 1442.7,997.9 1444.8,998.1 1446.8,998.4 1448.8,998.6 1450.8,998.8 1452.8,999.0 1454.8,999.2 1456.8,999.4 1458.8,999.6 1460.8,999.8 1462.8,1000.0 1464.8,1000.2 1466.8,1000.3 1468.8,1000.5 1470.8,1000.6 1472.8,1000.8 1474.8,1000.9 1476.8,1001.1 1478.8,1001.2 1480.8,1001.3 1482.8,1001.5 1484.8,1001.6 1486.8,1001.7 1488.8,1001.8 1490.8,1001.9 1492.8,1002.0 1494.8,1002.1 1496.8,1002.2 1498.8,1002.3 1500.8,1002.4 1502.8,1002.5 1504.9,1002.6 1506.9,1002.7 1508.9,1002.8 1510.9,1002.8 1512.9,1002.9 1514.9,1003.0 1516.9,1003.0 1518.9,1003.1 1520.9,1003.2 1522.9,1003.2 1524.9,1003.3 1526.9,1003.4 1528.9,1003.4 1530.9,1003.5 1532.9,1003.5 1534.9,1003.6 1536.9,1003.6 1538.9,1003.7 1540.9,1003.7 1542.9,1003.8 1544.9,1003.8 1546.9,1003.8 1548.9,1003.9 1550.9,1003.9 1552.9,1004.0 1554.9,1004.0 1556.9,1004.0 1558.9,1004.1 1560.9,1004.1 1562.9,1004.1 1565.0,1004.1 1567.0,1004.2 1569.0,1004.2 1571.0,1004.2 1573.0,1004.3 1575.0,1004.3 1577.0,1004.3 1579.0,1004.3 1581.0,1004.4 1583.0,1004.4 1585.0,1004.4 1587.0,1004.4 1589.0,1004.4 1591.0,1004.5 1593.0,1004.5" fill="none" stroke="#00FF00" stroke-width="6" stroke-linejoin="round"/>
<polyline points="994.0,308.3 996.0,308.3 998.0,308.3 1000.0,308.3 1002.0,308.3 1004.0,308.3 1006.0,308.4 1008.0,308.4 1010.0,308.4 1012.0,308.4 1014.0,308.5 1016.0,308.5 1018.0,308.5 1020.0,308.5 1022.0,308.6 1024.1,308.6 1026.1,308.7 1028.1,308.7 1030.1,308.8 1032.1,308.8 1034.1,308.9 1036.1,308.9 1038.1,309.0 1040.1,309.1 1042.1,309.1 1044.1,309.2 1046.1,309.3 1048.1,309.4 1050.1,309.5 1052.1,309.7 1054.1,309.8 1056.1,309.9 1058.1,310.1 1060.1,310.2 1062.1,310.4 1064.1,310.6 1066.1,310.8 1068.1,311.0 1070.1,311.3 1072.1,311.6 1074.1,311.9 1076.1,312.2 1078.1,312.5 1080.1,312.9 1082.1,313.3 1084.2,313.7 1086.2,314.2 1088.2,314.7 1090.2,315.2 1092.2,315.8 1094.2,316.5 1096.2,317.2 1098.2,317.9 1100.2,318.8 1102.2,319.6 1104.2,320.6 1106.2,321.6 1108.2,322.8 1110.2,324.0 1112.2,325.3 1114.2,326.7 1116.2,328.2 1118.2,329.9 1120.2,331.7 1122.2,333.6 1124.2,335.7 1126.2,337.9 1128.2,340.3 1130.2,342.9 1132.2,345.7 1134.2,348.7 1136.2,351.9 1138.2,355.4 1140.2,359.1 1142.2,363.1 1144.3,367.4 1146.3,371.9 1148.3,376.8 1150.3,382.0 1152.3,387.6 1154.3,393.5 1156.3,399.7 1158.3,406.4 1160.3,413.5 1162.3,421.0 1164.3,428.9 1166.3,437.2 1168.3,446.0 1170.3,455.2 1172.3,464.8 1174.3,474.9 1176.3,485.4 1178.3,496.3 1180.3,507.7 1182.3,519.4 1184.3,531.5 1186.3,544.0 1188.3,556.8 1190.3,569.8 1192.3,583.2 1194.3,596.7 1196.3,610.5 1198.3,624.3 1200.3,638.3 1202.3,652.3 1204.4,666.3 1206.4,680.3 1208.4,694.1 1210.4,707.9 1212.4,721.4 1214.4,734.8 1216.4,747.8 1218.4,760.6 1220.4,773.1 1222.4,785.2 1224.4,796.9 1226.4,808.2 1228.4,819.1 1230.4,829.6 1232.4,839.7 1234.4,849.3 1236.4,858.5 1238.4,867.2 1240.4,875.6 1242.4,883.4 1244.4,890.9 1246.4,898.0 1248.4,904.6 1250.4,910.9 1252.4,916.8 1254.4,922.3 1256.4,927.5 1258.4,932.4 1260.4,936.9 1262.4,941.2 1264.5,945.1 1266.5,948.8 1268.5,952.3 1270.5,955.5 1272.5,958.5 1274.5,961.3 1276.5,963.9 1278.5,966.3 1280.5,968.5 1282.5,970.6 1284.5,972.5 1286.5,974.3 1288.5,975.9 1290.5,977.5 1292.5,978.9 1294.5,980.2 1296.5,981.4 1298.5,982.5 1300.5,983.6 1302.5,984.5 1304.5,985.4 1306.5,986.2 1308.5,987.0 1310.5,987.7 1312.5,988.3 1314.5,988.9 1316.5,989.5 1318.5,990.0 1320.5,990.4 1322.5,990.9 1324.6,991.3 1326.6,991.6 1328.6,992.0 1330.6,992.3 1332.6,992.6 1334.6,992.8 1336.6,993.1 1338.6,993.3 1340.6,993.5 1342.6,993.7 1344.6,993.9 1346.6,994.0 1348.6,994.2 1350.6,994.3 1352.6,994.5 1354.6,994.6 1356.6,994.7 1358.6,994.8 1360.6,994.9 1362.6,995.0 1364.6,995.1 1366.6,995.1 1368.6,995.2 1370.6,995.3 1372.6,995.3 1374.6,995.4 1376.6,995.4 1378.6,995.5 1380.6,995.5 1382.6,995.5 1384.7,995.6 1386.7,995.6 1388.7,995.6 1390.7,995.7 1392.7,995.7 1394.7,995.7 1396.7,995.7 1398.7,995.8 1400.7,995.8 1402.7,995.8 1404.7,995.8 1406.7,995.8 1408.7,995.8 1410.7,995.8 1412.7,995.9 1414.7,995.9 1416.7,995.9 1418.7,995.9 1420.7,995.9 1422.7,995.9 1424.7,995.9 1426.7,995.9 1428.7,995.9 1430.7,995.9 1432.7,995.9 1434.7,995.9 1436.7,995.9 1438.7,995.9 1440.7,995.9 1442.7,995.9 1444.8,995.9 1446.8,996.0 1448.8,996.0 1450.8,996.0 1452.8,996.0 1454.8,996.0 1456.8,996.0 1458.8,996.0 1460.8,996.0 1462.8,996.0 1464.8,996.0 1466.8,996.0 1468.8,996.0 1470.8,996.0 1472.8,996.0 1474.8,996.0 1476.8,996.0 1478.8,996.0 1480.8,996.0 1482.8,996.0 1484.8,996.0 1486.8,996.0 1488.8,996.0 1490.8,996.0 1492.8,996.0 1494.8,996.0 1496.8,996.0 1498.8,996.0 1500.8,996.0 1502.8,996.0 1504.9,996.0 1506.9,996.0 1508.9,996.0 1510.9,996.0 1512.9,996.0 1514.9,996.0 1516.9,996.0 1518.9,996.0 1520.9,996.0 1522.9,996.0 1524.9,996.0 1526.9,996.0 1528.9,996.0 1530.9,996.0 1532.9,996.0 1534.9,996.0 1536.9,996.0 1538.9,996.0 1540.9,996.0 1542.9,996.0 1544.9,996.0 1546.9,996.0 1548.9,996.0 1550.9,996.0 1552.9,996.0 1554.9,996.0 1556.9,996.0 1558.9,996.0 1560.9,996.0 1562.9,996.0 1565.0,996.0 1567.0,996.0 1569.0,996.0 1571.0,996.0 1573.0,996.0 1575.0,996.0 1577.0,996.0 1579.0,996.0 1581.0,996.0 1583.0,996.0 1585.0,996.0 1587.0,996.0 1589.0,996.0 1591.0,996.0 1593.0,996.0" fill="none" stroke="#9088F8" stroke-width="6" stroke-linejoin="round"/>
<polyline points="994.0,243.4 996.0,243.4 998.0,243.4 1000.0,243.4 1002.0,243.4 1004.0,243.4 1006.0,243.4 1008.0,243.4 1010.0,243.4 1012.0,243.4 1014.0,243.4 1016.0,243.4 1018.0,243.4 1020.0,243.4 1022.0,243.4 1024.1,243.4 1026.1,243.4 1028.1,243.4 1030.1,243.4 1032.1,243.4 1034.1,243.4 1036.1,243.4 1038.1,243.4 1040.1,243.4 1042.1,243.4 1044.1,243.4 1046.1,243.4 1048.1,243.4 1050.1,243.4 1052.1,243.4 1054.1,243.4 1056.1,243.4 1058.1,243.4 1060.1,243.4 1062.1,243.4 1064.1,243.4 1066.1,243.4 1068.1,243.4 1070.1,243.4 1072.1,243.4 1074.1,243.4 1076.1,243.4 1078.1,243.4 1080.1,243.4 1082.1,243.5 1084.2,243.5 1086.2,243.5 1088.2,243.5 1090.2,243.5 1092.2,243.5 1094.2,243.5 1096.2,243.5 1098.2,243.5 1100.2,243.5 1102.2,243.5 1104.2,243.5 1106.2,243.5 1108.2,243.5 1110.2,243.5 1112.2,243.5 1114.2,243.5 1116.2,243.5 1118.2,243.5 1120.2,243.5 1122.2,243.5 1124.2,243.5 1126.2,243.5 1128.2,243.5 1130.2,243.5 1132.2,243.5 1134.2,243.5 1136.2,243.5 1138.2,243.5 1140.2,243.5 1142.2,243.5 1144.3,243.5 1146.3,243.5 1148.3,243.5 1150.3,243.5 1152.3,243.5 1154.3,243.5 1156.3,243.5 1158.3,243.5 1160.3,243.5 1162.3,243.5 1164.3,243.5 1166.3,243.5 1168.3,243.5 1170.3,243.5 1172.3,243.5 1174.3,243.5 1176.3,243.5 1178.3,243.6 1180.3,243.6 1182.3,243.6 1184.3,243.6 1186.3,243.6 1188.3,243.6 1190.3,243.6 1192.3,243.6 1194.3,243.7 1196.3,243.7 1198.3,243.7 1200.3,243.7 1202.3,243.7 1204.4,243.8 1206.4,243.8 1208.4,243.8 1210.4,243.8 1212.4,243.9 1214.4,243.9 1216.4,243.9 1218.4,244.0 1220.4,244.0 1222.4,244.1 1224.4,244.1 1226.4,244.2 1228.4,244.2 1230.4,244.3 1232.4,244.4 1234.4,244.4 1236.4,244.5 1238.4,244.6 1240.4,244.7 1242.4,244.8 1244.4,244.9 1246.4,245.1 1248.4,245.2 1250.4,245.3 1252.4,245.5 1254.4,245.7 1256.4,245.8 1258.4,246.0 1260.4,246.3 1262.4,246.5 1264.5,246.7 1266.5,247.0 1268.5,247.3 1270.5,247.6 1272.5,248.0 1274.5,248.3 1276.5,248.8 1278.5,249.2 1280.5,249.7 1282.5,250.2 1284.5,250.7 1286.5,251.3 1288.5,252.0 1290.5,252.7 1292.5,253.4 1294.5,254.2 1296.5,255.1 1298.5,256.1 1300.5,257.1 1302.5,258.2 1304.5,259.4 1306.5,260.7 1308.5,262.1 1310.5,263.6 1312.5,265.2 1314.5,267.0 1316.5,268.8 1318.5,270.9 1320.5,273.1 1322.5,275.4 1324.6,278.0 1326.6,280.7 1328.6,283.6 1330.6,286.7 1332.6,290.1 1334.6,293.7 1336.6,297.6 1338.6,301.8 1340.6,306.2 1342.6,311.0 1344.6,316.0 1346.6,321.5 1348.6,327.2 1350.6,333.4 1352.6,339.9 1354.6,346.8 1356.6,354.2 1358.6,361.9 1360.6,370.2 1362.6,378.8 1364.6,388.0 1366.6,397.6 1368.6,407.6 1370.6,418.2 1372.6,429.2 1374.6,440.7 1376.6,452.6 1378.6,465.0 1380.6,477.8 1382.6,491.1 1384.7,504.7 1386.7,518.7 1388.7,533.0 1390.7,547.6 1392.7,562.4 1394.7,577.5 1396.7,592.7 1398.7,608.1 1400.7,623.5 1402.7,638.9 1404.7,654.4 1406.7,669.7 1408.7,685.0 1410.7,700.0 1412.7,714.9 1414.7,729.5 1416.7,743.8 1418.7,757.8 1420.7,771.4 1422.7,784.7 1424.7,797.5 1426.7,809.9 1428.7,821.9 1430.7,833.4 1432.7,844.4 1434.7,855.0 1436.7,865.1 1438.7,874.7 1440.7,883.8 1442.7,892.5 1444.8,900.8 1446.8,908.6 1448.8,915.9 1450.8,922.9 1452.8,929.4 1454.8,935.6 1456.8,941.4 1458.8,946.8 1460.8,951.9 1462.8,956.6 1464.8,961.1 1466.8,965.2 1468.8,969.1 1470.8,972.8 1472.8,976.1 1474.8,979.3 1476.8,982.2 1478.8,985.0 1480.8,987.5 1482.8,989.9 1484.8,992.1 1486.8,994.1 1488.8,996.0 1490.8,997.7 1492.8,999.4 1494.8,1000.9 1496.8,1002.3 1498.8,1003.6 1500.8,1004.8 1502.8,1005.9 1504.9,1006.9 1506.9,1007.9 1508.9,1008.8 1510.9,1009.6 1512.9,1010.3 1514.9,1011.0 1516.9,1011.7 1518.9,1012.3 1520.9,1012.8 1522.9,1013.3 1524.9,1013.8 1526.9,1014.3 1528.9,1014.7 1530.9,1015.0 1532.9,1015.4 1534.9,1015.7 1536.9,1016.0 1538.9,1016.3 1540.9,1016.5 1542.9,1016.7 1544.9,1017.0 1546.9,1017.2 1548.9,1017.3 1550.9,1017.5 1552.9,1017.7 1554.9,1017.8 1556.9,1018.0 1558.9,1018.1 1560.9,1018.2 1562.9,1018.3 1565.0,1018.4 1567.0,1018.5 1569.0,1018.6 1571.0,1018.6 1573.0,1018.7 1575.0,1018.8 1577.0,1018.8 1579.0,1018.9 1581.0,1018.9 1583.0,1019.0 1585.0,1019.0 1587.0,1019.1 1589.0,1019.1 1591.0,1019.2 1593.0,1019.2" fill="none" stroke="#3300FF" stroke-width="6" stroke-linejoin="round"/>
<polyline points="994.0,332.5 996.0,347.0 998.0,361.6 1000.0,376.4 1002.0,391.2 1004.0,406.0 1006.0,420.9 1008.0,435.7 1010.0,450.6 1012.0,465.4 1014.0,480.2 1016.0,494.9 1018.0,509.5 1020.0,523.9 1022.0,538.3 1024.1,552.5 1026.1,566.6 1028.1,580.4 1030.1,594.1 1032.1,607.6 1034.1,620.8 1036.1,633.9 1038.1,646.6 1040.1,659.2 1042.1,671.4 1044.1,683.4 1046.1,695.1 1048.1,706.5 1050.1,717.7 1052.1,728.5 1054.1,739.1 1056.1,749.3 1058.1,759.3 1060.1,769.0 1062.1,778.3 1064.1,787.4 1066.1,796.2 1068.1,804.7 1070.1,812.9 1072.1,820.8 1074.1,828.4 1076.1,835.8 1078.1,842.9 1080.1,849.7 1082.1,856.3 1084.2,862.6 1086.2,868.7 1088.2,874.5 1090.2,880.1 1092.2,885.5 1094.2,890.7 1096.2,895.6 1098.2,900.3 1100.2,904.9 1102.2,909.2 1104.2,913.4 1106.2,917.4 1108.2,921.2 1110.2,924.8 1112.2,928.3 1114.2,931.6 1116.2,934.8 1118.2,937.8 1120.2,940.7 1122.2,943.5 1124.2,946.1 1126.2,948.6 1128.2,951.0 1130.2,953.3 1132.2,955.5 1134.2,957.5 1136.2,959.5 1138.2,961.4 1140.2,963.2 1142.2,964.9 1144.3,966.5 1146.3,968.1 1148.3,969.6 1150.3,971.0 1152.3,972.3 1154.3,973.6 1156.3,974.8 1158.3,975.9 1160.3,977.0 1162.3,978.1 1164.3,979.1 1166.3,980.0 1168.3,980.9 1170.3,981.7 1172.3,982.5 1174.3,983.3 1176.3,984.1 1178.3,984.7 1180.3,985.4 1182.3,986.0 1184.3,986.6 1186.3,987.2 1188.3,987.7 1190.3,988.3 1192.3,988.7 1194.3,989.2 1196.3,989.6 1198.3,990.1 1200.3,990.5 1202.3,990.8 1204.4,991.2 1206.4,991.5 1208.4,991.9 1210.4,992.2 1212.4,992.5 1214.4,992.7 1216.4,993.0 1218.4,993.3 1220.4,993.5 1222.4,993.7 1224.4,993.9 1226.4,994.1 1228.4,994.3 1230.4,994.5 1232.4,994.7 1234.4,994.8 1236.4,995.0 1238.4,995.2 1240.4,995.3 1242.4,995.4 1244.4,995.6 1246.4,995.7 1248.4,995.8 1250.4,995.9 1252.4,996.0 1254.4,996.1 1256.4,996.2 1258.4,996.3 1260.4,996.4 1262.4,996.5 1264.5,996.5 1266.5,996.6 1268.5,996.7 1270.5,996.7 1272.5,996.8 1274.5,996.9 1276.5,996.9 1278.5,997.0 1280.5,997.0 1282.5,997.1 1284.5,997.1 1286.5,997.2 1288.5,997.2 1290.5,997.2 1292.5,997.3 1294.5,997.3 1296.5,997.3 1298.5,997.4 1300.5,997.4 1302.5,997.4 1304.5,997.5 1306.5,997.5 1308.5,997.5 1310.5,997.5 1312.5,997.6 1314.5,997.6 1316.5,997.6 1318.5,997.6 1320.5,997.6 1322.5,997.6 1324.6,997.7 1326.6,997.7 1328.6,997.7 1330.6,997.7 1332.6,997.7 1334.6,997.7 1336.6,997.7 1338.6,997.8 1340.6,997.8 1342.6,997.8 1344.6,997.8 1346.6,997.8 1348.6,997.8 1350.6,997.8 1352.6,997.8 1354.6,997.8 1356.6,997.8 1358.6,997.8 1360.6,997.8 1362.6,997.9 1364.6,997.9 1366.6,997.9 1368.6,997.9 1370.6,997.9 1372.6,997.9 1374.6,997.9 1376.6,997.9 1378.6,997.9 1380.6,997.9 1382.6,997.9 1384.7,997.9 1386.7,997.9 1388.7,997.9 1390.7,997.9 1392.7,997.9 1394.7,997.9 1396.7,997.9 1398.7,997.9 1400.7,997.9 1402.7,997.9 1404.7,997.9 1406.7,997.9 1408.7,997.9 1410.7,997.9 1412.7,997.9 1414.7,997.9 1416.7,997.9 1418.7,997.9 1420.7,997.9 1422.7,997.9 1424.7,997.9 1426.7,997.9 1428.7,997.9 1430.7,997.9 1432.7,997.9 1434.7,997.9 1436.7,997.9 1438.7,997.9 1440.7,998.0 1442.7,998.0 1444.8,998.0 1446.8,998.0 1448.8,998.0 1450.8,998.0 1452.8,998.0 1454.8,998.0 1456.8,998.0 1458.8,998.0 1460.8,998.0 1462.8,998.0 1464.8,998.0 1466.8,998.0 1468.8,998.0 1470.8,998.0 1472.8,998.0 1474.8,998.0 1476.8,998.0 1478.8,998.0 1480.8,998.0 1482.8,998.0 1484.8,998.0 1486.8,998.0 1488.8,998.0 1490.8,998.0 1492.8,998.0 1494.8,998.0 1496.8,998.0 1498.8,998.0 1500.8,998.0 1502.8,998.0 1504.9,998.0 1506.9,998.0 1508.9,998.0 1510.9,998.0 1512.9,998.0 1514.9,998.0 1516.9,998.0 1518.9,998.0 1520.9,998.0 1522.9,998.0 1524.9,998.0 1526.9,998.0 1528.9,998.0 1530.9,998.0 1532.9,998.0 1534.9,998.0 1536.9,998.0 1538.9,998.0 1540.9,998.0 1542.9,998.0 1544.9,998.0 1546.9,998.0 1548.9,998.0 1550.9,998.0 1552.9,998.0 1554.9,998.0 1556.9,998.0 1558.9,998.0 1560.9,998.0 1562.9,998.0 1565.0,998.0 1567.0,998.0 1569.0,998.0 1571.0,998.0 1573.0,998.0 1575.0,998.0 1577.0,998.0 1579.0,998.0 1581.0,998.0 1583.0,998.0 1585.0,998.0 1587.0,998.0 1589.0,998.0 1591.0,998.0 1593.0,998.0" fill="none" stroke="#D200E0" stroke-width="6" stroke-linejoin="round"/>
<polyline points="166.8,222.2 169.9,222.2 173.0,222.2 176.2,222.2 179.3,222.2 182.4,222.2 185.5,222.2 188.6,222.2 191.8,222.2 194.9,222.2 198.0,222.2 201.1,222.2 204.2,222.2 207.4,222.2 210.5,222.2 213.6,222.2 216.7,222.2 219.8,222.2 223.0,222.2 226.1,222.2 229.2,222.2 232.3,222.2 235.4,222.2 238.6,222.2 241.7,222.2 244.8,222.2 247.9,222.2 251.0,222.2 254.2,222.2 257.3,222.2 260.4,222.2 263.5,222.2 266.7,222.2 269.8,222.2 272.9,222.2 276.0,222.3 279.1,222.3 282.3,222.3 285.4,222.3 288.5,222.3 291.6,222.3 294.7,222.3 297.9,222.3 301.0,222.3 304.1,222.3 307.2,222.3 310.3,222.3 313.5,222.3 316.6,222.3 319.7,222.3 322.8,222.4 325.9,222.4 329.1,222.4 332.2,222.4 335.3,222.4 338.4,222.4 341.5,222.4 344.7,222.5 347.8,222.5 350.9,222.5 354.0,222.5 357.1,222.5 360.3,222.6 363.4,222.6 366.5,222.6 369.6,222.7 372.7,222.7 375.9,222.7 379.0,222.8 382.1,222.8 385.2,222.8 388.3,222.9 391.5,222.9 394.6,223.0 397.7,223.0 400.8,223.1 403.9,223.2 407.1,223.2 410.2,223.3 413.3,223.4 416.4,223.5 419.5,223.5 422.7,223.6 425.8,223.7 428.9,223.9 432.0,224.0 435.2,224.1 438.3,224.2 441.4,224.4 444.5,224.5 447.6,224.7 450.8,224.9 453.9,225.0 457.0,225.2 460.1,225.5 463.2,225.7 466.4,225.9 469.5,226.2 472.6,226.5 475.7,226.8 478.8,227.1 482.0,227.4 485.1,227.8 488.2,228.2 491.3,228.6 494.4,229.0 497.6,229.5 500.7,230.0 503.8,230.6 506.9,231.1 510.0,231.7 513.2,232.4 516.3,233.1 519.4,233.9 522.5,234.7 525.6,235.5 528.8,236.4 531.9,237.4 535.0,238.5 538.1,239.6 541.2,240.8 544.4,242.0 547.5,243.4 550.6,244.8 553.7,246.4 556.8,248.0 560.0,249.7 563.1,251.6 566.2,253.6 569.3,255.7 572.4,257.9 575.6,260.3 578.7,262.8 581.8,265.5 584.9,268.3 588.0,271.4 591.2,274.6 594.3,278.0 597.4,281.6 600.5,285.4 603.6,289.4 606.8,293.7 609.9,298.2 613.0,303.0 616.1,308.0 619.3,313.3 622.4,318.9 625.5,324.8 628.6,331.0 631.7,337.4 634.9,344.2 638.0,351.4 641.1,358.8 644.2,366.6 647.3,374.7 650.5,383.2 653.6,392.0 656.7,401.1 659.8,410.6 662.9,420.4 666.1,430.6 669.2,441.1 672.3,451.8 675.4,462.9 678.5,474.3 681.7,486.0 684.8,497.9 687.9,510.0 691.0,522.4 694.1,534.9 697.3,547.6 700.4,560.5 703.5,573.4 706.6,586.5 709.7,599.6 712.9,612.7 716.0,625.9 719.1,638.9 722.2,652.0 725.3,664.9 728.5,677.7 731.6,690.4 734.7,702.8 737.8,715.1 740.9,727.2 744.1,739.0 747.2,750.6 750.3,761.9 753.4,772.8 756.5,783.5 759.7,793.9 762.8,803.9 765.9,813.6 769.0,823.0 772.1,832.0 775.3,840.7 778.4,849.0 781.5,857.1 784.6,864.7 787.7,872.1 790.9,879.1 794.0,885.8 797.1,892.1 800.2,898.2 803.4,904.0 806.5,909.5 809.6,914.7 812.7,919.6 815.8,924.3 819.0,928.7 822.1,932.9 825.2,936.9 828.3,940.6 831.4,944.1 834.6,947.5 837.7,950.6 840.8,953.6 843.9,956.4 847.0,959.0 850.2,961.5 853.3,963.8 856.4,966.0 859.5,968.0 862.6,970.0 865.8,971.8 868.9,973.5 872.0,975.1 875.1,976.6 878.2,978.0 881.4,979.3 884.5,980.6 887.6,981.7 890.7,982.8 893.8,983.8 897.0,984.8 900.1,985.7 903.2,986.5 906.3,987.3 909.4,988.1 912.6,988.7 915.7,989.4 918.8,990.0 921.9,990.6 925.0,991.1 928.2,991.6 931.3,992.0 934.4,992.5 937.5,992.9 940.6,993.3 943.8,993.6 946.9,994.0 950.0,994.3 953.1,994.6 956.2,994.8 959.4,995.1 962.5,995.3 965.6,995.5 968.7,995.7 971.9,995.9 975.0,996.1 978.1,996.3 981.2,996.5 984.3,996.6 987.5,996.7 990.6,996.9 993.7,997.0 996.8,997.1 999.9,997.2 1003.1,997.3 1006.2,997.4 1009.3,997.5 1012.4,997.6 1015.5,997.6 1018.7,997.7 1021.8,997.8 1024.9,997.8 1028.0,997.9 1031.1,998.0 1034.3,998.0 1037.4,998.1 1040.5,998.1 1043.6,998.1 1046.7,998.2 1049.9,998.2 1053.0,998.2 1056.1,998.3 1059.2,998.3 1062.3,998.3 1065.5,998.4 1068.6,998.4 1071.7,998.4 1074.8,998.4 1077.9,998.4 1081.1,998.5 1084.2,998.5 1087.3,998.5 1090.4,998.5 1093.5,998.5 1096.7,998.5 1099.8,998.6 1102.9,998.6 1106.0,998.6 1109.1,998.6 1112.3,998.6 1115.4,998.6 1118.5,998.6 1121.6,998.6 1124.7,998.6 1127.9,998.6 1131.0,998.6 1134.1,998.6 1137.2,998.6 1140.3,998.7 1143.5,998.7 1146.6,998.7 1149.7,998.7 1152.8,998.7 1156.0,998.7 1159.1,998.7 1162.2,998.7 1165.3,998.7 1168.4,998.7 1171.6,998.7 1174.7,998.7 1177.8,998.7 1180.9,998.7 1184.0,998.7 1187.2,998.7 1190.3,998.7 1193.4,998.7 1196.5,998.7 1199.6,998.7 1202.8,998.7 1205.9,998.7 1209.0,998.7 1212.1,998.7 1215.2,998.7 1218.4,998.7 1221.5,998.7 1224.6,998.7 1227.7,998.7 1230.8,998.7 1234.0,998.7 1237.1,998.7 1240.2,998.7 1243.3,998.7 1246.4,998.7 1249.6,998.7 1252.7,998.7 1255.8,998.7 1258.9,998.7 1262.0,998.7 1265.2,998.7 1268.3,998.7 1271.4,998.7 1274.5,998.7 1277.6,998.7 1280.8,998.7 1283.9,998.7 1287.0,998.7 1290.1,998.7 1293.2,998.7 1296.4,998.7 1299.5,998.7 1302.6,998.7 1305.7,998.7 1308.8,998.7 1312.0,998.7 1315.1,998.7 1318.2,998.7 1321.3,998.7 1324.5,998.7 1327.6,998.7 1330.7,998.7 1333.8,998.7 1336.9,998.7 1340.1,998.7 1343.2,998.7 1346.3,998.7 1349.4,998.7 1352.5,998.7 1355.7,998.7 1358.8,998.7 1361.9,998.7 1365.0,998.7 1368.1,998.7 1371.3,998.7 1374.4,998.7 1377.5,998.7 1380.6,998.7 1383.7,998.7 1386.9,998.7 1390.0,998.7 1393.1,998.7 1396.2,998.7 1399.3,998.7 1402.5,998.7 1405.6,998.7 1408.7,998.7 1411.8,998.7" fill="none" stroke="#FF2028" stroke-width="6" stroke-linejoin="round"/>
<path d="M1829,372.4H1890" stroke="#A0A0A4" stroke-width="6.8"/>
<circle cx="1859.6" cy="372.4" r="10.6" fill="none" stroke="#A0A0A4" stroke-width="9.6"/>
<text x="1921" y="386.6" font-family="Liberation Sans, Arial, sans-serif" font-size="44">5a</text>
<path d="M1829,429.0H1890" stroke="#000000" stroke-width="6.8"/>
<path d="M1848.6,418.5L1870.6,418.5L1859.6,439.5Z" fill="none" stroke="#808080" stroke-width="9" stroke-linejoin="round"/>
<text x="1921" y="443.9" font-family="Liberation Sans, Arial, sans-serif" font-size="44">5b</text>
<path d="M1829,491.5H1890" stroke="#A4FFCC" stroke-width="6.8"/>
<rect x="1848.6" y="480.5" width="22" height="22" fill="none" stroke="#A4FFCC" stroke-width="8.8" stroke-linejoin="round"/>
<text x="1921" y="505.9" font-family="Liberation Sans, Arial, sans-serif" font-size="44">5c</text>
<path d="M1829,553.5H1890" stroke="#00FF00" stroke-width="6.8"/>
<path d="M1848.6,564.0L1870.6,564.0L1859.6,543.0Z" fill="none" stroke="#00FF00" stroke-width="9" stroke-linejoin="round"/>
<text x="1921" y="568.6" font-family="Liberation Sans, Arial, sans-serif" font-size="44">5d</text>
<path d="M1829,605.0H1890" stroke="#9088F8" stroke-width="6.8"/>
<path d="M1859.6,591.6L1873.0,605.0L1859.6,618.4L1846.2,605.0Z" fill="none" stroke="#9088F8" stroke-width="8.7" stroke-linejoin="round"/>
<text x="1921" y="619.6" font-family="Liberation Sans, Arial, sans-serif" font-size="44">5e</text>
<path d="M1832,659.5H1893" stroke="#3300FF" stroke-width="6.8"/>
<polygon points="1862.6,654.3 1863.9,657.6 1867.5,657.9 1864.8,660.2 1865.7,663.7 1862.6,661.8 1859.5,663.7 1860.4,660.2 1857.7,657.9 1861.3,657.6" fill="#3300FF" stroke="#fff" stroke-width="1.4" stroke-linejoin="round" paint-order="stroke"/>
<text x="1924" y="673.9" font-family="Liberation Sans, Arial, sans-serif" font-size="44">5f</text>
<path d="M1832,721.5H1893" stroke="#D200E0" stroke-width="6.8"/>
<path d="M1852.1,721.5H1873.1M1862.6,710.7V732.3" stroke="#D200E0" stroke-width="8.6" stroke-linecap="round"/>
<text x="1924" y="736.4" font-family="Liberation Sans, Arial, sans-serif" font-size="44">5g</text>
<path d="M1832,783.9H1893" stroke="#FF2028" stroke-width="6.8"/>
<path d="M1855.2,776.5L1870.0,791.3M1855.2,791.3L1870.0,776.5" stroke="#FF2028" stroke-width="9.4" stroke-linecap="round"/>
<text x="1924" y="798.6" font-family="Liberation Sans, Arial, sans-serif" font-size="44">Pentamidine</text>
</svg>
</body></html>
